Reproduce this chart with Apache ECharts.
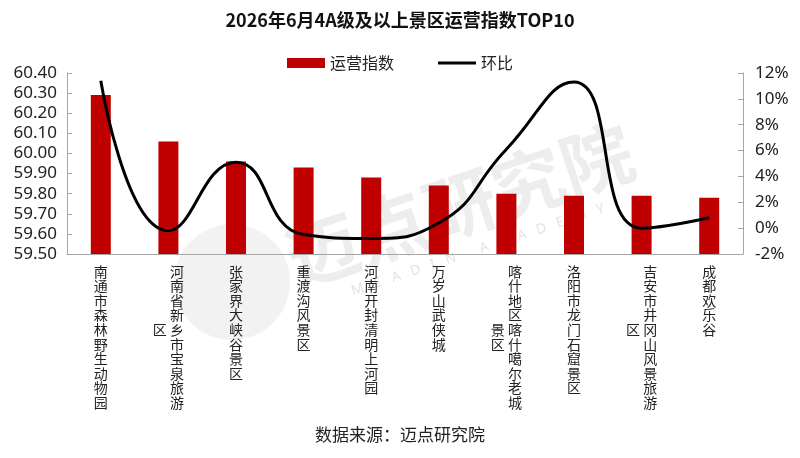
<!DOCTYPE html>
<html>
<head>
<meta charset="utf-8">
<script src="https://cdn.jsdelivr.net/npm/echarts@6/dist/echarts.min.js"></script>
<style>
  html, body { margin: 0; padding: 0; background: #fff; }
  #main { width: 800px; height: 458px; }
</style>
</head>
<body>
<div id="main"></div>
<script>
// 数据
var categories = ['南通市森林野生动物园', '河南省新乡市宝泉旅游区', '张家界大峡谷景区', '重渡沟风景区', '河南开封清明上河园',
  '万岁山武侠城', '喀什地区喀什噶尔老城景区', '洛阳市龙门石窟景区', '吉安市井冈山风景旅游区', '成都欢乐谷'];
var indexValues = [60.29, 60.06, 59.96, 59.93, 59.88, 59.84, 59.80, 59.79, 59.79, 59.78];
var momValues = [11.4, -0.2, 5.1, -0.5, -0.8, 0.4, 6.1, 11.3, 0.0, 0.8];
var leftTicks = { min: 59.5, max: 60.4, interval: 0.1 };
var rightTicks = { min: -2, max: 12, interval: 2 };

var cnFont = '"Noto Sans CJK SC", "Noto Sans", sans-serif';
var numFont = '"Noto Sans", "Open Sans", sans-serif';

// 竖排文字，超过10个字换到左边一列（居中）
function verticalLabel(name) {
  var chars = name.split('');
  var col1 = chars.slice(0, 10);
  var col2 = chars.slice(10);
  if (col2.length === 0) return col1.join('\n');
  var start = Math.floor((10 - col2.length) / 2);
  var lines = [];
  for (var i = 0; i < col1.length; i++) {
    var k = i - start;
    var left = (k >= 0 && k < col2.length) ? col2[k] : '\u3000';
    lines.push(left + ' ' + col1[i]);
  }
  return lines.join('\n');
}

var myChart = echarts.init(document.getElementById('main'));

myChart.setOption({
  animation: false,
  backgroundColor: '#fff',
  title: {
    text: '2026年6月4A级及以上景区运营指数TOP10',
    left: 'center',
    top: 6,
    textStyle: { fontFamily: cnFont, fontSize: 18, fontWeight: 'bold', color: '#111' }
  },
  legend: {
    top: 50,
    left: 'center',
    itemGap: 44,
    itemWidth: 38,
    itemHeight: 10,
    textStyle: { fontFamily: cnFont, fontSize: 16, color: '#222' },
    data: [
      { name: '运营指数', icon: 'rect' },
      { name: '环比', icon: 'path://M0,0 L38,0 L38,3 L0,3 Z', itemStyle: { color: '#000' } }
    ]
  },
  graphic: [
    {
      type: 'circle', z: 0, silent: true,
      shape: { cx: 232, cy: 282, r: 58 },
      style: { fill: 'rgba(0,0,0,0.05)' }
    },
    {
      type: 'text', z: 0, silent: true,
      x: 460, y: 205, rotation: 0.32,
      style: {
        text: '迈点研究院', fontFamily: cnFont, fontSize: 72, fontWeight: 'bold',
        fill: 'rgba(0,0,0,0.07)', align: 'center', verticalAlign: 'middle'
      }
    },
    {
      type: 'text', z: 0, silent: true,
      x: 478, y: 250, rotation: 0.32,
      style: {
        text: 'M   E   A   D   I   N       A   C   A   D   E   M   Y', fontFamily: numFont, fontSize: 14,
        fill: 'rgba(0,0,0,0.12)', align: 'center', verticalAlign: 'middle'
      }
    },
    {
      type: 'text', left: 'center', top: 426,
      style: { text: '数据来源：迈点研究院', fontFamily: cnFont, fontSize: 17, fill: '#222' }
    }
  ],
  grid: { left: 67, right: 57, top: 73, bottom: 204 },
  xAxis: {
    type: 'category',
    data: categories,
    axisLine: { onZero: false, lineStyle: { color: '#a6a6a6', width: 1 } },
    axisTick: { inside: true, length: 5, lineStyle: { color: '#a6a6a6' } },
    axisLabel: {
      interval: 0,
      margin: 10,
      fontFamily: cnFont,
      fontSize: 14,
      lineHeight: 14.6,
      color: '#222',
      verticalAlign: 'top',
      formatter: verticalLabel
    }
  },
  yAxis: [
    {
      type: 'value',
      min: leftTicks.min, max: leftTicks.max, interval: leftTicks.interval,
      splitLine: { show: false },
      axisLine: { show: true, lineStyle: { color: '#a6a6a6' } },
      axisTick: { show: true, inside: true, length: 5, lineStyle: { color: '#a6a6a6' } },
      axisLabel: {
        margin: 10, fontFamily: numFont, fontSize: 17, color: '#222',
        formatter: function (v) { return v.toFixed(2); }
      }
    },
    {
      type: 'value',
      min: rightTicks.min, max: rightTicks.max, interval: rightTicks.interval,
      splitLine: { show: false },
      axisLine: { show: true, lineStyle: { color: '#a6a6a6' } },
      axisTick: { show: true, inside: true, length: 5, lineStyle: { color: '#a6a6a6' } },
      axisLabel: {
        margin: 12, fontFamily: numFont, fontSize: 17, color: '#222',
        formatter: function (v) { return v + '%'; }
      }
    }
  ],
  series: [
    {
      name: '运营指数',
      type: 'bar',
      data: indexValues,
      barWidth: 20,
      itemStyle: { color: '#C00000' },
      z: 2
    },
    {
      name: '环比',
      type: 'line',
      yAxisIndex: 1,
      data: momValues,
      smooth: 0.5,
      showSymbol: false,
      lineStyle: { color: '#000', width: 3 },
      itemStyle: { color: '#000' },
      z: 3
    }
  ]
});
</script>
</body>
</html>
